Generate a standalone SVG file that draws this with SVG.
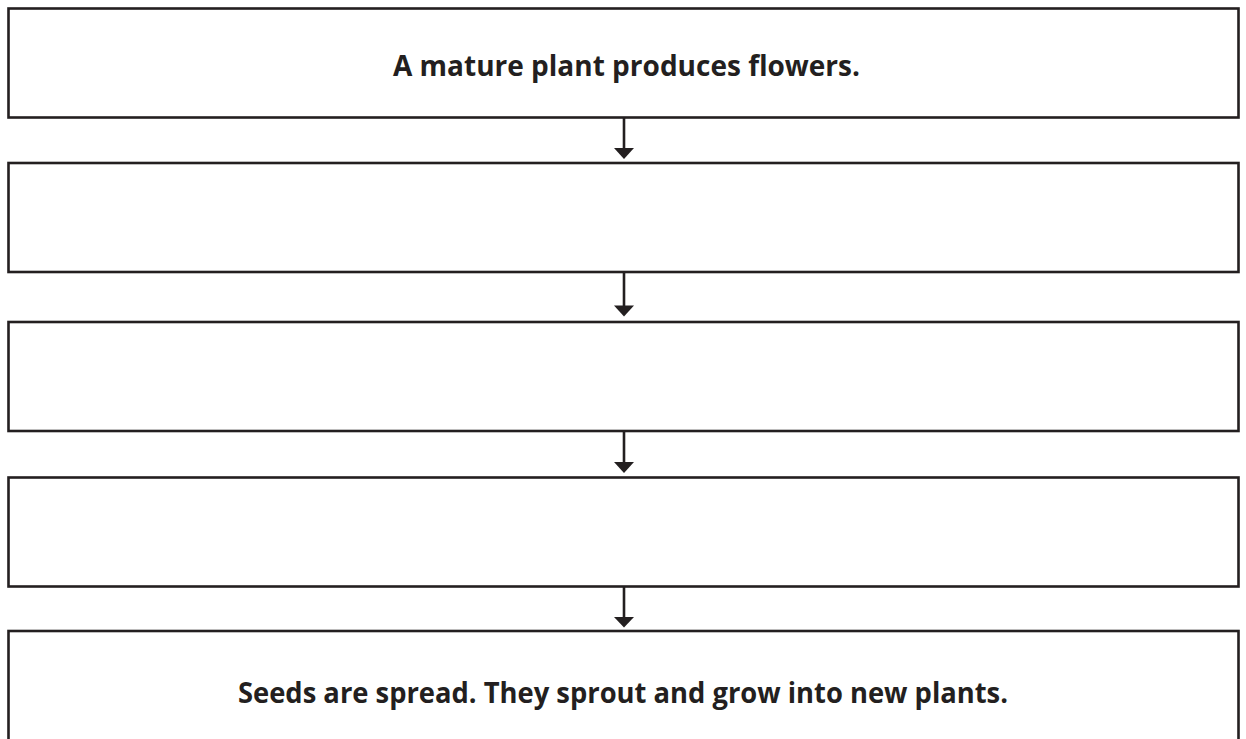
<svg xmlns="http://www.w3.org/2000/svg" width="1246" height="739" viewBox="0 0 1246 739">
<defs>
<style>
.box{fill:#ffffff;stroke:#231f20;stroke-width:2.6}
.lbl{font-family:"Open Sans","Liberation Sans",sans-serif;font-weight:700;font-size:29px;fill:#231f20;text-anchor:middle}
.conn line{stroke:#231f20;stroke-width:2.6}
.conn path{fill:#231f20}
</style>
</defs>
<rect width="1246" height="739" fill="#ffffff"/>
<g id="node1"><rect class="box" x="8.5" y="8.5" width="1230" height="109"/><text class="lbl" x="626.5" y="76" textLength="467" lengthAdjust="spacingAndGlyphs">A mature plant produces flowers.</text></g>
<g id="node2"><rect class="box" x="8.5" y="163" width="1230" height="109"/></g>
<g id="node3"><rect class="box" x="8.5" y="322" width="1230" height="109"/></g>
<g id="node4"><rect class="box" x="8.5" y="477.5" width="1230" height="109"/></g>
<g id="node5"><rect class="box" x="8.5" y="631" width="1230" height="130"/><text class="lbl" x="623" y="703" textLength="770" lengthAdjust="spacingAndGlyphs">Seeds are spread. They sprout and grow into new plants.</text></g>
<g id="connectors" class="conn">
<line x1="624" y1="117.5" x2="624" y2="150"/><path d="M614 148 L634 148 L624 159 Z"/>
<line x1="624" y1="272" x2="624" y2="307"/><path d="M614 305.5 L634 305.5 L624 316.5 Z"/>
<line x1="624" y1="431" x2="624" y2="464"/><path d="M614 462 L634 462 L624 473 Z"/>
<line x1="624" y1="586.5" x2="624" y2="619"/><path d="M614 617 L634 617 L624 627.5 Z"/>
</g>
</svg>
